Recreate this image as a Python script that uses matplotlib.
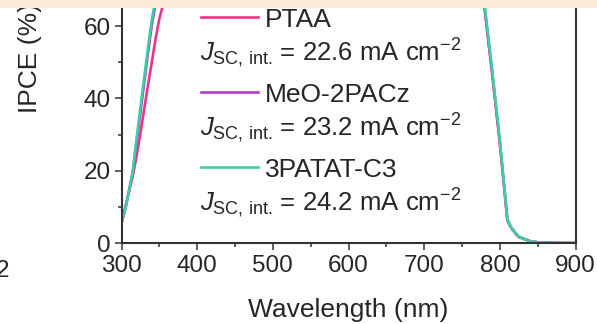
import matplotlib
matplotlib.use('Agg')
import matplotlib.pyplot as plt
from matplotlib.lines import Line2D
from matplotlib.patches import Rectangle
from matplotlib.ticker import MultipleLocator

plt.rcParams['font.family'] = ['Liberation Sans', 'DejaVu Sans']
plt.rcParams['mathtext.fontset'] = 'custom'
plt.rcParams['mathtext.rm'] = 'Liberation Sans'
plt.rcParams['mathtext.it'] = 'Liberation Sans:italic'
plt.rcParams['mathtext.bf'] = 'Liberation Sans:bold'

# IPCE spectra (%)
wavelength = [300, 305, 310, 315, 320, 325, 330, 335, 340, 345, 350, 360, 370, 380,
              400, 450, 500, 550, 600, 650, 700, 750, 760, 770, 780, 790, 800, 810,
              815, 820, 825, 830, 840, 850, 860, 880, 900]
ipce_ptaa = [5.5, 9.9, 14.2, 18.6, 24.2, 30.4, 37.0, 43.6, 50.0, 56.4, 62.0, 70, 76, 80,
             83, 84, 84, 84, 84, 84, 84, 83, 80, 74, 64.5, 46.5, 27.5, 6.2,
             4.2, 2.8, 1.7, 1.3, 0.5, 0.2, 0.1, 0, 0]
ipce_meo = [5.6, 9.4, 14.6, 19.8, 28.0, 36.0, 44.3, 52.6, 60.2, 66.2, 72, 79, 83, 85,
            87, 88, 88, 88, 88, 87, 87, 85, 82, 75, 65, 47, 28, 6.4,
            4.3, 2.9, 1.7, 1.3, 0.5, 0.2, 0.1, 0, 0]
ipce_3patat = [5.8, 9.3, 14.4, 20.0, 29.1, 37.5, 45.8, 54.2, 61.7, 67.5, 73, 80, 84, 86,
               88, 89, 89, 89, 89, 88, 88, 86, 83, 76, 65.5, 47.7, 28.5, 6.4,
               4.3, 2.9, 1.7, 1.3, 0.5, 0.2, 0.1, 0, 0]

names = ['PTAA', 'MeO-2PACz', '3PATAT-C3']
jsc = [22.6, 23.2, 24.2]
series = [ipce_ptaa, ipce_meo, ipce_3patat]
colors = ['#ea3586', '#b23ccc', '#3ccfa6']

ink = '#262626'
fs_tick = 17.5
fs = 19
fs_jsc = 18.5

fig = plt.figure(figsize=(5.97, 3.24), dpi=100)
ax = fig.add_axes([121.5 / 597, 81 / 324, 454 / 597, 361.5 / 324])

for ipce, c in zip(series, colors):
    ax.plot(wavelength, ipce, color=c, lw=1.9)

ax.set_xlim(300, 900)
ax.set_ylim(0, 100)
ax.xaxis.set_major_locator(MultipleLocator(100))
ax.xaxis.set_minor_locator(MultipleLocator(50))
ax.yaxis.set_major_locator(MultipleLocator(20))
ax.yaxis.set_minor_locator(MultipleLocator(10))
ax.tick_params(which='both', direction='out', width=1.1, colors='#333333',
               labelcolor=ink, labelsize=fs_tick)
ax.tick_params(which='major', length=5)
ax.tick_params(which='minor', length=3)
ax.tick_params(axis='x', pad=3.5)
ax.tick_params(axis='y', pad=3)
for s in ax.spines.values():
    s.set_linewidth(1.5)
    s.set_color('#333333')

ax.set_xlabel('Wavelength (nm)', fontsize=fs, color=ink)
ax.set_ylabel('IPCE (%)', fontsize=fs, color=ink)
ax.xaxis.set_label_coords(0.5, -0.152)
ax.yaxis.set_label_coords(-0.176, 0.512)

# legend keys with integrated Jsc under each name
for i, (name, j, c) in enumerate(zip(names, jsc, colors)):
    yk = 0.625 - i * 0.2075
    ax.add_line(Line2D([0.175, 0.3007], [yk, yk], transform=ax.transAxes,
                       color=c, lw=1.9))
    ax.text(0.315, yk - 0.0265, name, transform=ax.transAxes, fontsize=fs,
            color=ink, va='baseline', ha='left')
    ax.text(0.173, yk - 0.12, r'$J_{\mathrm{SC,\,int.}}\,$= %.1f mA cm$^{\mathrm{-2}}$' % j,
            transform=ax.transAxes, fontsize=fs_jsc, color=ink, va='baseline', ha='left')

# tick label of the neighbouring panel
fig.text(9 / 597, 47 / 324, '2', fontsize=fs_tick, color=ink, ha='right', va='baseline')

fig.patches.append(Rectangle((0, 1 - 7.5 / 324), 1, 7.5 / 324, transform=fig.transFigure,
                             facecolor='#fbecd8', edgecolor='none', zorder=10))

fig.savefig('out.png', dpi=100)
